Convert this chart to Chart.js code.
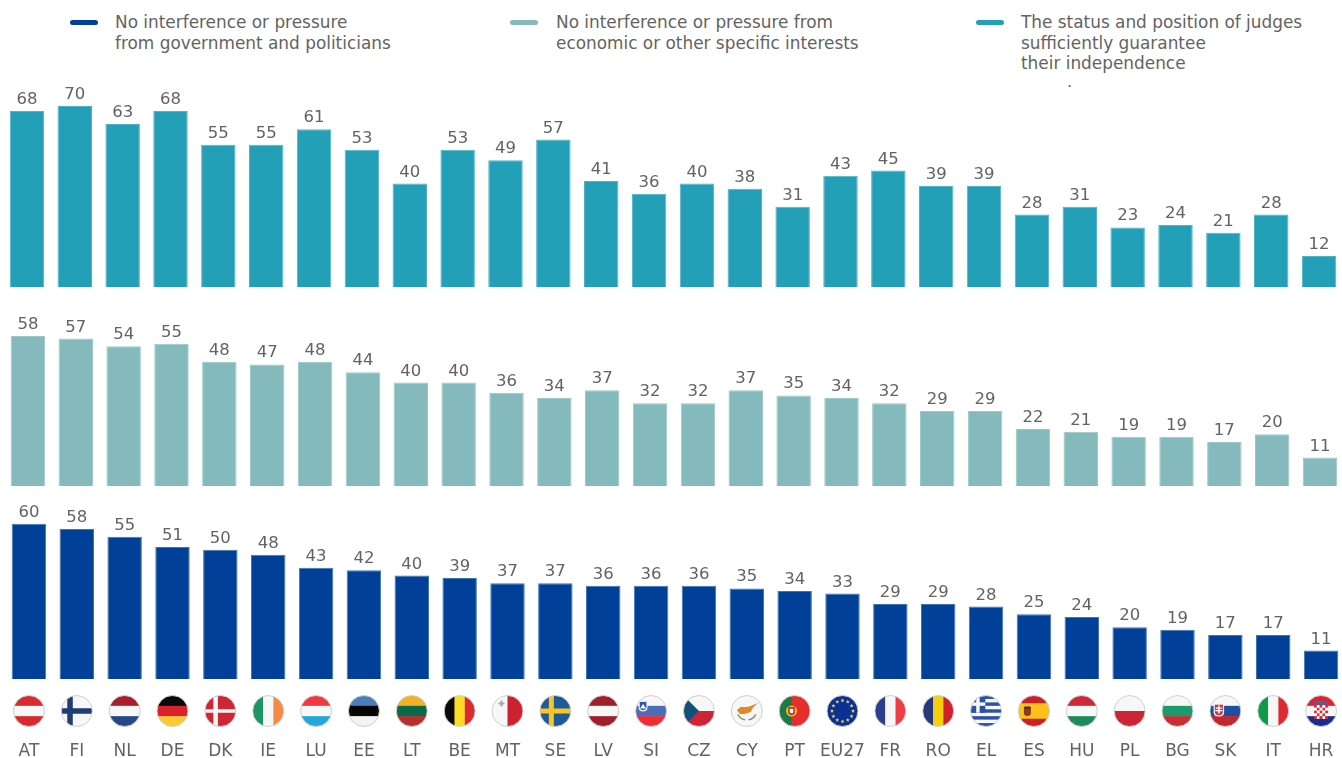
<!DOCTYPE html>
<html>
<head>
<meta charset="utf-8">
<title>Judicial independence</title>
<script src="https://cdn.jsdelivr.net/npm/chart.js@4"></script>
<style>
html, body { margin: 0; padding: 0; background: #fff; overflow: hidden; }
body { width: 1342px; height: 758px; position: relative; font-family: "DejaVu Sans", sans-serif; color: #636363; }
canvas { position: absolute; }
.swatch { position: absolute; top: 20px; width: 28px; height: 5px; border-radius: 3px; }
.legend { position: absolute; top: 12px; font-size: 16.9px; line-height: 20.5px; white-space: pre; }
#stray { position: absolute; left: 1067px; top: 72px; font-size: 16px; }
</style>
</head>
<body>
<div class="swatch" id="sw0" style="left:70px"></div>
<div class="legend" id="lg0" style="left:115px"></div>
<div class="swatch" id="sw1" style="left:510px"></div>
<div class="legend" id="lg1" style="left:556px"></div>
<div class="swatch" id="sw2" style="left:976px"></div>
<div class="legend" id="lg2" style="left:1021px"></div>
<div id="stray">.</div>

<canvas id="chartJudges" width="1340" height="207" style="left:3px;top:80px"></canvas>
<canvas id="chartInterests" width="1340" height="207" style="left:4px;top:279px"></canvas>
<canvas id="chartGov" width="1340" height="286" style="left:5px;top:472px"></canvas>

<script>
// data
let countries = ["AT","FI","NL","DE","DK","IE","LU","EE","LT","BE","MT","SE","LV","SI","CZ","CY","PT","EU27","FR","RO","EL","ES","HU","PL","BG","SK","IT","HR"];
let judges    = [68,70,63,68,55,55,61,53,40,53,49,57,41,36,40,38,31,43,45,39,39,28,31,23,24,21,28,12];
let interests = [58,57,54,55,48,47,48,44,40,40,36,34,37,32,32,37,35,34,32,29,29,22,21,19,19,17,20,11];
let gov       = [60,58,55,51,50,48,43,42,40,39,37,37,36,36,36,35,34,33,29,29,28,25,24,20,19,17,17,11];

let legendGov = "No interference or pressure\nfrom government and politicians";
let legendInterests = "No interference or pressure from\neconomic or other specific interests";
let legendJudges = "The status and position of judges\nsufficiently guarantee\ntheir independence";

let blue = "#004098";
let paleTeal = "#84babb";
let teal = "#23a0b8";
let textColor = "#636363";
let white = "#f7f7f7";

// legend on top of the page
document.getElementById("lg0").textContent = legendGov;
document.getElementById("lg1").textContent = legendInterests;
document.getElementById("lg2").textContent = legendJudges;
document.getElementById("sw0").style.background = blue;
document.getElementById("sw1").style.background = paleTeal;
document.getElementById("sw2").style.background = teal;

// plain stripes for most flags, the rest get an extra draw step below
let stripes = {
    AT: ["h", "#d8292f", white, "#d8292f"],
    NL: ["h", "#a81f2b", white, "#24488a"],
    DE: ["h", "#0a0a0a", "#d8232e", "#fcc935"],
    IE: ["v", "#1e9463", white, "#f58a45"],
    LU: ["h", "#ef3a3f", white, "#25a6da"],
    EE: ["h", "#4a7ebb", "#050505", "#f3f3f3"],
    LT: ["h", "#f4b223", "#086a4a", "#b82e2e"],
    BE: ["v", "#0a0a0a", "#fcdc25", "#dc2a32"],
    MT: ["v", white, "#cd2130"],
    LV: ["h", "#a11f2d", white, "#a11f2d"],
    SI: ["h", white, "#4a6db8", "#ee2e34"],
    CZ: ["h", white, "#cd2535"],
    FR: ["v", "#2b3f92", white, "#ef3d45"],
    RO: ["v", "#24387a", "#f5d00f", "#cf2030"],
    HU: ["h", "#cd2837", white, "#1f8a5a"],
    PL: ["h", white, "#cd2535"],
    BG: ["h", white, "#1c9a6e", "#c92e32"],
    SK: ["h", white, "#1d4fa0", "#c1272d"],
    IT: ["v", "#0f9a48", white, "#dd2a32"],
    HR: ["h", "#e3202c", white, "#1d2c8f"],
    FI: ["h", white],
    DK: ["h", "#cf2637"],
    SE: ["h", "#1d5a9c"],
    CY: ["h", white],
    PT: ["h", "#e52f2d"],
    EU27: ["h", "#0d3192"],
    EL: ["h", white],
    ES: ["h", "#c82128"]
};

function nordicCross(c, r, color, vx, vw, hw) {
    c.fillStyle = color;
    c.fillRect(-r, -hw / 2, r * 2, hw);
    c.fillRect(vx, -r, vw, r * 2);
}

function shield(c, x, y, w, h, color) {
    c.fillStyle = color;
    c.beginPath();
    c.moveTo(x - w / 2, y - h / 2);
    c.lineTo(x + w / 2, y - h / 2);
    c.lineTo(x + w / 2, y + h / 6);
    c.quadraticCurveTo(x + w / 2, y + h / 2, x, y + h / 2);
    c.quadraticCurveTo(x - w / 2, y + h / 2, x - w / 2, y + h / 6);
    c.closePath();
    c.fill();
}

let extras = {
    FI: function (c, r) { nordicCross(c, r, "#1f3c75", -9.5, 5.5, 5.5); },
    DK: function (c, r) { nordicCross(c, r, white, -7, 4.5, 3.5); },
    SE: function (c, r) { nordicCross(c, r, "#fcc41e", -6.5, 5, 5); },
    MT: function (c) {
        c.fillStyle = "#a8a8a8";
        c.fillRect(-9, -8.5, 6, 2);
        c.fillRect(-7, -10.5, 2, 6);
    },
    SI: function (c) {
        shield(c, -8, -5, 9, 11, "#e8e8f4");
        shield(c, -8, -5, 6.5, 8, "#2f56a8");
        c.fillStyle = "#ffffff";
        c.beginPath();
        c.moveTo(-11, -2.5); c.lineTo(-8, -7); c.lineTo(-5, -2.5);
        c.fill();
    },
    CZ: function (c, r) {
        c.fillStyle = "#144f78";
        c.beginPath();
        c.moveTo(-r, -r);
        c.lineTo(0, 0);
        c.lineTo(-r, r);
        c.fill();
    },
    CY: function (c) {
        c.fillStyle = "#e08a24";
        c.beginPath();
        c.moveTo(-10, -1); c.lineTo(-6, -4); c.lineTo(0, -4); c.lineTo(4, -5);
        c.lineTo(11, -8); c.lineTo(6, -3); c.lineTo(4, 1); c.lineTo(-2, 3); c.lineTo(-7, 3);
        c.fill();
        c.strokeStyle = "#7f9a6a";
        c.lineWidth = 1.5;
        c.beginPath();
        c.arc(0, -1, 10, 0.45, 1.4);
        c.moveTo(-3.3, 8.5);
        c.arc(0, -1, 10, 1.75, 2.7);
        c.stroke();
    },
    PT: function (c, r) {
        c.fillStyle = "#1d7a45";
        c.fillRect(-r, -r, r * 0.8, r * 2);
        c.fillStyle = "#e6c21f";
        c.beginPath();
        c.arc(-r * 0.2, 0, 5.5, 0, Math.PI * 2);
        c.fill();
        shield(c, -r * 0.2, 0, 6.5, 8, "#c9282c");
        shield(c, -r * 0.2, 0, 3.5, 4.5, "#f5f5f5");
    },
    EU27: function (c) {
        c.fillStyle = "#fdd835";
        for (let i = 0; i < 12; i++) {
            let a = i * Math.PI / 6;
            c.save();
            c.translate(Math.cos(a) * 10.5, Math.sin(a) * 10.5);
            c.beginPath();
            for (let k = 0; k < 10; k++) {
                let rr = k % 2 ? 0.9 : 2.1;
                let b = -Math.PI / 2 + k * Math.PI / 5;
                c.lineTo(Math.cos(b) * rr, Math.sin(b) * rr);
            }
            c.fill();
            c.restore();
        }
    },
    EL: function (c, r) {
        let h = r * 2 / 9;
        c.fillStyle = "#2a50a8";
        for (let i = 0; i < 9; i += 2) {
            c.fillRect(-r, -r + i * h, r * 2, h);
        }
        c.fillRect(-r, -r, r * 0.95, h * 5);
        c.fillStyle = white;
        c.fillRect(-r, -r + h * 2, r * 0.95, h);
        c.fillRect(-r + r * 0.95 / 2 - h / 2, -r, h, h * 5);
    },
    ES: function (c, r) {
        c.fillStyle = "#fcc21a";
        c.fillRect(-r, -r / 2, r * 2, r);
        shield(c, -6.5, 0.5, 7, 9, "#8a3b20");
        c.fillStyle = "#3a2a20";
        c.fillRect(-9.5, -4.5, 6, 2);
    },
    SK: function (c) {
        shield(c, -6.5, -1, 10.5, 13, "#f4f4f8");
        shield(c, -6.5, -1, 8, 10.5, "#d0303a");
        c.fillStyle = "#ffffff";
        c.fillRect(-7.2, -5.5, 1.5, 8);
        c.fillRect(-9.5, -3.5, 6, 1.3);
        c.fillRect(-10, -1, 7, 1.3);
    },
    HR: function (c) {
        c.fillStyle = "#3d68a8";
        c.fillRect(-7, -10, 14, 3.5);
        let s = 2.8;
        for (let row = 0; row < 5; row++) {
            for (let col = 0; col < 5; col++) {
                c.fillStyle = (row + col) % 2 ? "#ffffff" : "#dc2a32";
                c.fillRect(-7 + col * s, -6 + row * s, s, s);
            }
        }
    }
};

function drawFlag(c, code, x, y, r) {
    c.save();
    c.translate(x, y);
    c.save();
    c.beginPath();
    c.arc(0, 0, r, 0, Math.PI * 2);
    c.clip();
    let s = stripes[code];
    let n = s.length - 1;
    for (let i = 0; i < n; i++) {
        c.fillStyle = s[i + 1];
        if (s[0] === "h") {
            c.fillRect(-r, -r + i * 2 * r / n, r * 2, 2 * r / n + 0.5);
        } else {
            c.fillRect(-r + i * 2 * r / n, -r, 2 * r / n + 0.5, r * 2);
        }
    }
    if (extras[code]) {
        extras[code](c, r);
    }
    c.restore();
    // extras leave their own path behind, so start the outline fresh
    c.beginPath();
    c.arc(0, 0, r, 0, Math.PI * 2);
    c.strokeStyle = "#cfcfcf";
    c.lineWidth = 1;
    c.stroke();
    c.restore();
}

// numbers above the bars
let barLabels = {
    id: "barLabels",
    afterDatasetsDraw(chart) {
        let c = chart.ctx;
        let values = chart.data.datasets[0].data;
        c.save();
        c.font = '16.5px "DejaVu Sans"';
        c.fillStyle = textColor;
        c.textAlign = "center";
        chart.getDatasetMeta(0).data.forEach(function (bar, i) {
            c.fillText(values[i], bar.x, bar.y - 7);
        });
        c.restore();
    }
};

// flags sit between the bottom bars and the country codes
let flagRow = {
    id: "flagRow",
    afterDraw(chart) {
        let xScale = chart.scales.x;
        countries.forEach(function (code, i) {
            drawFlag(chart.ctx, code, xScale.getPixelForValue(i), chart.chartArea.bottom + 32, 15.5);
        });
    }
};

function makeChart(id, values, color, edge, showAxis) {
    return new Chart(document.getElementById(id), {
        type: "bar",
        data: {
            labels: countries,
            datasets: [{
                data: values,
                backgroundColor: color,
                borderColor: edge,
                borderWidth: 1,
                barPercentage: 0.72,
                categoryPercentage: 1
            }]
        },
        options: {
            responsive: false,
            animation: false,
            layout: { padding: 0 },
            plugins: { legend: { display: false }, tooltip: { enabled: false } },
            scales: {
                x: {
                    display: showAxis,
                    // long invisible tick marks make room for the flags
                    grid: { display: false, tickLength: 62 },
                    border: { display: false },
                    afterFit: function (scale) {
                        if (showAxis) {
                            scale.height = 79;
                        }
                    },
                    ticks: {
                        autoSkip: false,
                        maxRotation: 0,
                        minRotation: 0,
                        padding: 0,
                        color: textColor,
                        font: { family: "DejaVu Sans", size: 17 }
                    }
                },
                y: { display: false, min: 0, max: 80 }
            }
        },
        plugins: showAxis ? [barLabels, flagRow] : [barLabels]
    });
}

makeChart("chartJudges", judges, teal, "#4fb2c6", false);
makeChart("chartInterests", interests, paleTeal, "#9cc8c9", false);
makeChart("chartGov", gov, blue, "#4075b4", true);
</script>
</body>
</html>
